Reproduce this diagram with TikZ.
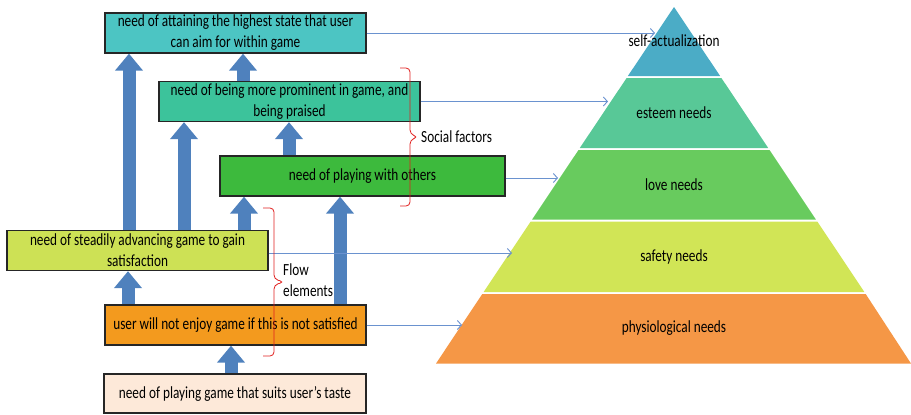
\documentclass[tikz,border=0pt]{standalone}
\usepackage{fontspec}
\setmainfont{Carlito}[FakeStretch=0.78]
\usetikzlibrary{arrows.meta,backgrounds}
\definecolor{cA}{HTML}{4CC5C3}
\definecolor{cB}{HTML}{3CC39B}
\definecolor{cC}{HTML}{3DBA3D}
\definecolor{cD}{HTML}{CDE155}
\definecolor{cE}{HTML}{F39A1E}
\definecolor{cF}{HTML}{FDE9D9}
\definecolor{arrowblue}{HTML}{4F81BD}
\definecolor{thinblue}{HTML}{6A92CF}
\definecolor{bracered}{HTML}{E0201E}
\definecolor{pA}{HTML}{4BACC6}
\definecolor{pB}{HTML}{58C897}
\definecolor{pC}{HTML}{68CB5E}
\definecolor{pD}{HTML}{D1E556}
\definecolor{pE}{HTML}{F59746}
\begin{document}
\begin{tikzpicture}[x=1pt,y=-1pt,
  box/.style={draw=black!85, line width=1.3pt, minimum width=261pt, minimum height=40pt,
    inner sep=0pt, align=center, font=\fontsize{17}{21}\selectfont},
  lbl/.style={inner sep=0pt, align=left, font=\fontsize{17}{21}\selectfont},
  plbl/.style={inner sep=0pt, font=\fontsize{17}{21}\selectfont},
  blk/.style={line width=13pt, draw=arrowblue, -{Triangle[length=17pt,width=27pt]}},
  thin/.style={draw=thinblue, line width=0.9pt, -{Straight Barb[length=4pt,width=9pt]}},
  brc/.style={draw=bracered, line width=0.8pt, rounded corners=4pt}
]
\useasboundingbox (0,0) rectangle (911,415);

% pyramid
\fill[pA] (674,7) -- (720.1,76) -- (627.9,76) -- cycle;
\fill[pB] (626.6,78) -- (721.4,78) -- (768.2,148) -- (579.8,148) -- cycle;
\fill[pC] (578.5,150) -- (769.5,150) -- (815.9,219.5) -- (532.1,219.5) -- cycle;
\fill[pD] (530.7,221.5) -- (817.3,221.5) -- (864.4,292) -- (483.6,292) -- cycle;
\fill[pE] (482.3,294) -- (865.7,294) -- (911,363.5) -- (436,363.5) -- cycle;
\node[plbl] (l1) at (674,41) {self-actualization};
\node[plbl] (l2) at (674,113) {esteem needs};
\node[plbl] (l3) at (674,185) {love needs};
\node[plbl] (l4) at (674,256.5) {safety needs};
\node[plbl] (l5) at (674,328) {physiological needs};

% boxes
\node[box, fill=cA] (b1) at (235.5,33) {need of attaining the highest state that user\\can aim for within game};
\node[box, fill=cB] (b2) at (289.5,101.5) {need of being more prominent in game, and\\being praised};
\node[box, fill=cC, minimum width=285pt] (b3) at (362.5,176) {need of playing with others};
\node[box, fill=cD] (b4) at (137.5,250.5) {need of steadily advancing game to gain\\satisfaction};
\node[box, fill=cE] (b5) at (235.5,325) {user will not enjoy game if this is not satisfied};
\node[box, fill=cF, minimum width=262pt, minimum height=39pt] (b6) at (235,393.5) {need of playing game that suits user’s taste};

% block arrows
\coordinate (xa1) at (129,0);
\coordinate (xa2) at (243,0);
\coordinate (xa3) at (184,0);
\coordinate (xa4) at (289,0);
\coordinate (xa5) at (244,0);
\coordinate (xa6) at (340,0);
\coordinate (xa7) at (128,0);
\coordinate (xa8) at (231,0);
\begin{scope}[on background layer]
\draw[blk] (b4.north -| xa1) -- (b1.south -| xa1);
\draw[blk] (b2.north -| xa2) -- (b1.south -| xa2);
\draw[blk] (b4.north -| xa3) -- (b2.south -| xa3);
\draw[blk] (b3.north -| xa4) -- (b2.south -| xa4);
\draw[blk] (b4.north -| xa5) -- (b3.south -| xa5);
\draw[blk] (b5.north -| xa6) -- (b3.south -| xa6);
\draw[blk] (b5.north -| xa7) -- (b4.south -| xa7);
\draw[blk] (b6.north -| xa8) -- (b5.south -| xa8);
\end{scope}

% thin arrows to pyramid
\coordinate (p1) at (655,33);
\coordinate (p2) at (608,101.5);
\coordinate (p3) at (558,178);
\coordinate (p4) at (512,253);
\coordinate (p5) at (462,325);
\draw[thin] (b1.east) -- (p1);
\draw[thin] (b2.east) -- (p2);
\draw[thin] (b3.east |- p3) -- (p3);
\draw[thin] (b4.east |- p4) -- (p4);
\draw[thin] (b5.east) -- (p5);

% braces
\coordinate (s1) at (400,68);
\coordinate (f1) at (263,208);
\draw[brc] (s1) -- ++(10,0) -- ++(0,66) -- ++(8,3) -- ++(-8,3) -- ++(0,66) -- ++(-10,0);
\draw[brc] (f1) -- ++(11,0) -- ++(0,71) -- ++(10,3) -- ++(-10,3) -- ++(0,71) -- ++(-11,0);
\node[lbl, anchor=west] (sf) at (421,137) {Social factors};
\node[lbl, anchor=west] (fe) at (283,280) {Flow\\elements};
\end{tikzpicture}
\end{document}
